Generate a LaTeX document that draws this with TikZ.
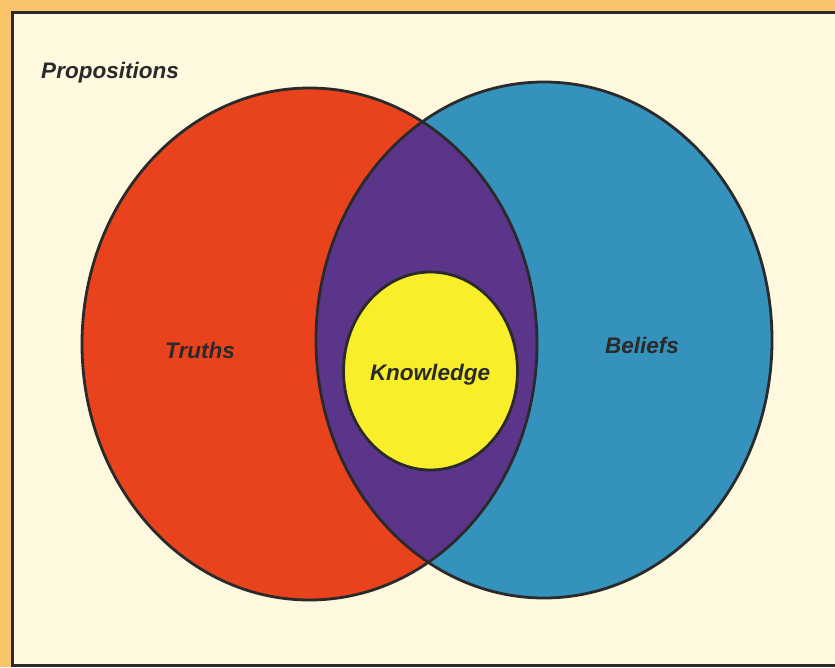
\documentclass[tikz,border=0pt]{standalone}
\usepackage{fontspec}
\setmainfont{Liberation Sans}
\definecolor{frameorange}{HTML}{F9C46A}
\definecolor{cream}{HTML}{FEF8DE}
\definecolor{truthred}{HTML}{E9431E}
\definecolor{beliefblue}{HTML}{3592BC}
\definecolor{knowpurple}{HTML}{5B3589}
\definecolor{knowyellow}{HTML}{F8EE2A}
\definecolor{inkdark}{HTML}{2A2A2A}
\tikzset{
  outline/.style={draw=inkdark, line width=2.8pt},
  lbl/.style={font=\fontsize{22.5}{26}\selectfont\bfseries\itshape, text=inkdark, inner sep=0pt}
}
\begin{document}
\begin{tikzpicture}[x=1pt,y=-1pt]
\useasboundingbox (0,0) rectangle (835,667);
\fill[frameorange] (0,0) rectangle (835,667);
\fill[cream] (12,12) rectangle (845,665);
\draw[draw=inkdark, line width=3pt] (12,12) rectangle (845,665);
% circles
\fill[truthred] (309.5,344) ellipse [x radius=227.5, y radius=256];
\fill[beliefblue] (544,340) ellipse [x radius=228, y radius=258];
\begin{scope}
  \clip (309.5,344) ellipse [x radius=227.5, y radius=256];
  \fill[knowpurple] (544,340) ellipse [x radius=228, y radius=258];
\end{scope}
\draw[outline] (309.5,344) ellipse [x radius=227.5, y radius=256];
\draw[outline] (544,340) ellipse [x radius=228, y radius=258];
\draw[outline, fill=knowyellow] (430.5,371) ellipse [x radius=87, y radius=99];
% labels
\node[lbl] (props) at (110,73) {Propositions};
\node[lbl] (truths) at (200,350) {Truths};
\node[lbl] (know) at (430,375) {Knowledge};
\node[lbl] (beliefs) at (642,345) {Beliefs};
\end{tikzpicture}
\end{document}
